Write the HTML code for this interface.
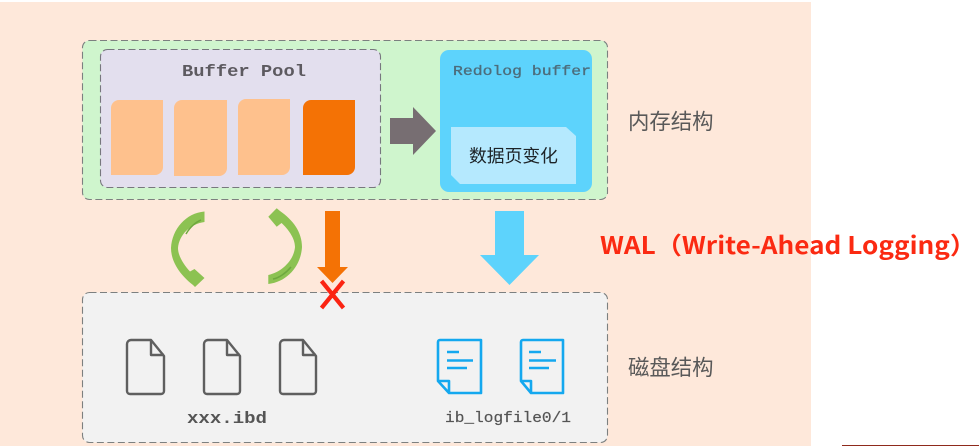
<!DOCTYPE html>
<html><head><meta charset="utf-8"><style>
html,body{margin:0;padding:0;background:#fff;width:979px;height:446px;overflow:hidden}
svg{display:block}
text{white-space:pre}
.m{font-family:"Liberation Mono",monospace}
.n{font-family:"Noto Sans CJK SC","Liberation Sans",sans-serif}
</style></head><body>
<svg width="979" height="446" viewBox="0 0 979 446" xmlns="http://www.w3.org/2000/svg">
<rect x="0" y="2" width="811" height="444" fill="#fee8da"/>
<rect x="842" y="445" width="137" height="1" fill="#8f2a1c"/>
<rect x="82.500" y="40.500" width="525" height="159" rx="7" fill="#cff5cd" stroke="#7c8080" stroke-width="1.100" stroke-dasharray="7 3.500"/>
<rect x="100.500" y="49.500" width="280" height="138" rx="7" fill="#e3dfee" stroke="#77777e" stroke-width="1.100" stroke-dasharray="7 3.500"/>
<text class="m" x="182" y="76" font-size="16.500" font-weight="700" fill="#5d5a60" textLength="124" lengthAdjust="spacingAndGlyphs">Buffer Pool</text>
<path d="M119 100H163V167a8 8 0 0 1-8 8H111V108a8 8 0 0 1 8-8Z" fill="#fec18d"/>
<path d="M182 100H227V168a8 8 0 0 1-8 8H174V108a8 8 0 0 1 8-8Z" fill="#fec18d"/>
<path d="M246 99H290V167a8 8 0 0 1-8 8H238V107a8 8 0 0 1 8-8Z" fill="#fec18d"/>
<path d="M311 100H355V167a8 8 0 0 1-8 8H303V108a8 8 0 0 1 8-8Z" fill="#f47205"/>
<path d="M390 118H413V107L436 131L413 155V144H390Z" fill="#776e72"/>
<rect x="440" y="50" width="152" height="142" rx="9" fill="#5dd3fc"/>
<text class="m" x="453" y="75" font-size="13.500" fill="#4c6d7c" textLength="138" lengthAdjust="spacingAndGlyphs" stroke="#4c6d7c" stroke-width=".3">Redolog buffer</text>
<path d="M451 127H566L576 136V184H460L451 175Z" fill="#b5e9fe"/>
<text class="n" x="469" y="162" font-size="17.800" fill="#1d2327">数据页变化</text>
<text class="n" x="628" y="129" font-size="21.400" fill="#595959">内存结构</text>
<text class="n" x="600" y="254" font-size="24" font-weight="700" fill="#fb2a12" textLength="376" lengthAdjust="spacingAndGlyphs">WAL（Write-Ahead Logging）</text>
<text class="n" x="628" y="375" font-size="21.400" fill="#595959">磁盘结构</text>
<path d="M204.500 211.500C186 213 172 229 171 248C171 261 179 274 193 285L195 287L204.500 278L194.500 269L190 271.500C184 265 178 256 178 248C179 235 190 224 204.500 222Z" fill="#8cc252"/>
<path d="M186 234C190 227 196 222 201 220" stroke="#6ea83e" stroke-width="1.500" fill="none"/>
<path d="M276.700 208.300L268.300 216.700L276.700 226.700L281.500 223C288 229 295 238 295 247C294 260 282 272 268.300 275V284C287 282 301 266 302 247C302 232 293 220 280 211Z" fill="#8cc252"/>
<path d="M273 279C279 278 286 273 291 267" stroke="#6ea83e" stroke-width="1.500" fill="none"/>
<path d="M325 211H340V267H348L332.500 283L317 267H325Z" fill="#f47205"/>
<path d="M495 211H524V255H539L509.500 285L480 255H495Z" fill="#5dd3fc"/>
<rect x="82.500" y="292.500" width="525" height="150" rx="7" fill="#f2f2f2" stroke="#7c8080" stroke-width="1.100" stroke-dasharray="7 3.500"/>
<path d="M321.500 281L343.500 308M343.500 281L321.500 308" stroke="#fb2412" stroke-width="4.200" fill="none"/>
<g fill="none" stroke="#5f5f5f" stroke-width="2.400" stroke-linejoin="round">
<path d="M131 340H151L164 356V391a3 3 0 0 1-3 3H130a3 3 0 0 1-3-3V344a4 4 0 0 1 4-4Z"/><path d="M151 340V355H164"/>
<path d="M207.500 340H227L240 356V391a3 3 0 0 1-3 3H207a3 3 0 0 1-3-3V344a4 4 0 0 1 4-4Z"/><path d="M227 340V355H240"/>
<path d="M284 340H303L316 356V391a3 3 0 0 1-3 3H283a3 3 0 0 1-3-3V344a4 4 0 0 1 4-4Z"/><path d="M303 340V355H316"/>
</g>
<text class="m" x="187" y="423" font-size="17" font-weight="700" fill="#555" textLength="80" lengthAdjust="spacingAndGlyphs">xxx.ibd</text>
<g fill="none" stroke="#14a8ef" stroke-width="2.600" stroke-linejoin="round">
<path d="M440 340H481V393H449L438 381V342a2 2 0 0 1 2-2Z"/><path d="M438 381H449V393"/>
<path d="M447 352H459M447 360.500H473M447 368H467" stroke-width="2.400"/>
<path d="M523 340H563V393H531L521 381V342a2 2 0 0 1 2-2Z"/><path d="M521 381H531V393"/>
<path d="M529 352H541M529 360.500H556M529 368H549" stroke-width="2.400"/>
</g>
<text class="m" x="445" y="422" font-size="14.500" fill="#555" textLength="126" lengthAdjust="spacingAndGlyphs" stroke="#555" stroke-width=".2">ib_logfile0/1</text>
</svg>
</body></html>
